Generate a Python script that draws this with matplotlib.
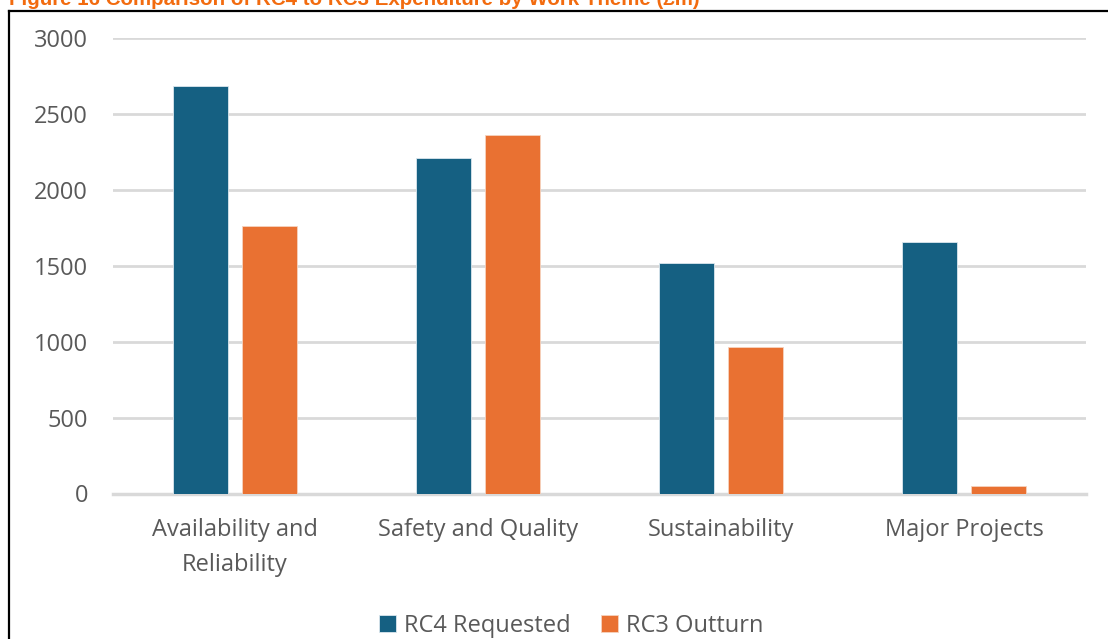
import numpy as np
import matplotlib
matplotlib.use("Agg")
import matplotlib.pyplot as plt
from matplotlib.lines import Line2D

# data (£m)
categories = ["Availability and\nReliability", "Safety and Quality", "Sustainability", "Major Projects"]
rc4_requested = [2685, 2212, 1515, 1655]
rc3_outturn = [1762, 2360, 965, 50]
series_names = ["RC4 Requested", "RC3 Outturn"]
y_ticks = [0, 500, 1000, 1500, 2000, 2500, 3000]

BLUE = "#156082"
ORANGE = "#E97132"
GREY_TXT = "#595959"
GRID = "#d9d9d9"

plt.rcParams["font.family"] = ["Open Sans", "DejaVu Sans"]

W, H = 1108, 639
fig = plt.figure(figsize=(W / 100, H / 100), dpi=100)
fig.patch.set_facecolor("white")

# axes placed in pixel terms
left, right, top, bottom = 113, 1086, 38, 493.5
ax = fig.add_axes([left / W, 1 - bottom / H, (right - left) / W, (bottom - top) / H])

x = np.arange(len(categories))
bw = 0.226
off = 0.142
ax.bar(x - off, rc4_requested, bw, color=BLUE, edgecolor="#dbe7ee", linewidth=0.6,
       label=series_names[0], zorder=3)
ax.bar(x + off, rc3_outturn, bw, color=ORANGE, edgecolor="#f6d3bf", linewidth=0.6,
       label=series_names[1], zorder=3)

ax.set_xlim(-0.5, len(categories) - 0.5)
ax.set_ylim(0, 3000)
ax.set_yticks(y_ticks)
ax.set_yticklabels([str(v) for v in y_ticks])
ax.set_xticks(x)
ax.set_xticklabels(categories, linespacing=1.6)

ax.grid(axis="y", color=GRID, linewidth=2, zorder=0)
ax.set_axisbelow(True)
for s in ["top", "right", "left"]:
    ax.spines[s].set_visible(False)
ax.spines["bottom"].set_color(GRID)
ax.spines["bottom"].set_linewidth(2.5)
ax.tick_params(axis="y", length=0, pad=18, labelsize=17, labelcolor=GREY_TXT)
ax.tick_params(axis="x", length=0, pad=18, labelsize=17, labelcolor=GREY_TXT)

leg = ax.legend(loc="center", bbox_to_anchor=(0.5 - 0.029, -0.29), ncol=2,
                frameon=False, fontsize=17, handlelength=0.7, handleheight=0.7,
                handletextpad=0.35, columnspacing=1.3)
for t in leg.get_texts():
    t.set_color(GREY_TXT)

# cropped caption above the chart box
fig.text(9 / W, 1 - 5 / H, "Figure 16 Comparison of RC4 to RC3 Expenditure by Work Theme (£m)",
         color="#F26B0F", fontsize=14.8, fontweight="bold", ha="left", va="baseline",
         family=["Liberation Sans", "DejaVu Sans"])

# black frame around the chart (runs off the right and bottom edges)
fig.add_artist(Line2D([9 / W, 1.01], [1 - 11 / H, 1 - 11 / H], color="black", linewidth=1.6,
                      transform=fig.transFigure))
fig.add_artist(Line2D([9 / W, 9 / W], [1 - 11 / H, -0.01], color="black", linewidth=1.6,
                      transform=fig.transFigure))

fig.savefig("out.png", dpi=100)
